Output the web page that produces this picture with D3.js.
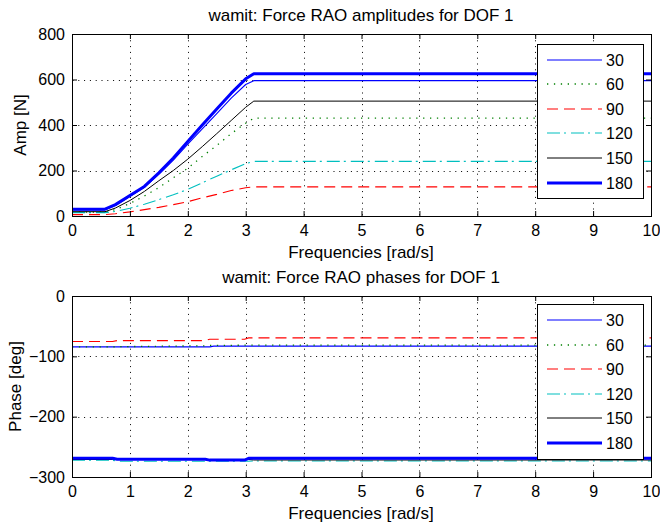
<!DOCTYPE html>
<html><head><meta charset="utf-8">
<script src="https://cdn.jsdelivr.net/npm/d3@7"></script>
<style>
body{margin:0;background:#fff;}
text{font-family:"Liberation Sans",Arial,Helvetica,sans-serif;fill:#000;}
</style></head><body>
<svg id="fig" width="660" height="531"></svg>
<script>
// Wave headings (deg) shown in the legends
const headings = ["30", "60", "90", "120", "150", "180"];

// Frequency grid of the amplitude curves [rad/s]
const ampFreqs = [0, 0.57, 0.75, 1.0, 1.25, 1.5, 1.75, 2.0, 2.25, 2.5, 2.75, 3.0, 3.14, 10];
// Force RAO amplitudes [N], one array per heading
const amp30  = [27, 27, 46, 86, 126, 183, 246, 316, 383, 450, 518, 578, 595, 595];
const amp60  = [17, 17, 28, 55, 88, 125, 168, 210, 262, 310, 362, 408, 430, 430];
const amp90  = [6, 6, 10, 18, 28, 38, 50, 63, 80, 95, 112, 124, 128, 128];
const amp120 = [15, 15, 20, 34, 52, 72, 93, 117, 146, 175, 203, 230, 240, 240];
const amp150 = [19, 19, 35, 68, 108, 155, 200, 250, 305, 362, 420, 478, 505, 505];
const amp180 = [30, 30, 50, 90, 130, 190, 255, 328, 400, 470, 540, 603, 625, 625];

// Frequency grid of the phase curves [rad/s]
const phaseFreqs = [0, 0.7, 0.78, 2.3, 2.38, 2.45, 2.98, 3.05, 3.14, 10];
// Force RAO phases [deg], one array per heading
const ph30  = [-84.3, -84.3, -84.3, -84.3, -84.3, -83.1, -83.1, -83.1, -83.1, -83.1];
const ph60  = [-84.3, -84.3, -84.0, -82.5, -82.0, -82.0, -81.5, -81.5, -81.5, -81.5];
const ph90  = [-75.5, -75.5, -73.9, -73.9, -71.6, -71.6, -71.6, -69.4, -69.4, -69.4];
const ph120 = [-272.3, -272.3, -274, -274, -274, -274, -274, -274, -273.5, -273.5];
const ph150 = [-271, -271, -271, -271, -271, -271, -271, -271, -271.8, -271.8];
const ph180 = [-268.8, -268.8, -270.5, -270.5, -272, -272, -272, -269, -269, -269];

// Axis tick values
const freqTicks = [0, 1, 2, 3, 4, 5, 6, 7, 8, 9, 10];
const ampTicks = [0, 200, 400, 600, 800];
const phaseTicks = [-300, -200, -100, 0];

// Line styles per heading
const styles = [
  {color: "#0000ff", width: 1.1, dash: null},
  {color: "#008000", width: 1.3, dash: "1.3,5.6"},
  {color: "#ff0000", width: 1.1, dash: "11,6"},
  {color: "#00bfbf", width: 1.1, dash: "13,4,2,5"},
  {color: "#000000", width: 1,   dash: null},
  {color: "#0000ff", width: 3,   dash: null}
];

const svg = d3.select("#fig");
svg.append("rect").attr("width", 660).attr("height", 531).attr("fill", "#fff");

const x = d3.scaleLinear().domain([0, 10]).range([72, 651]);

function panel(cfg, idx) {
  const y = d3.scaleLinear().domain(cfg.yDomain).range([cfg.bottom, cfg.top]);
  const g = svg.append("g");
  const x0 = x(0) + 0.5, x1 = x(10) + 0.5;
  const yT = cfg.top + 0.5, yB = cfg.bottom + 0.5;

  const clipId = "clip" + idx;
  svg.append("clipPath").attr("id", clipId)
    .append("rect").attr("x", x0).attr("y", yT).attr("width", x1 - x0).attr("height", yB - yT);

  // dotted grid
  const grid = g.append("g").attr("stroke", "#000").attr("stroke-width", 1)
    .attr("stroke-dasharray", "1,4.8").attr("fill", "none");
  freqTicks.slice(1, -1).forEach(v => {
    const px = Math.round(x(v)) + 0.5;
    grid.append("line").attr("x1", px).attr("x2", px).attr("y1", yT).attr("y2", yB);
  });
  cfg.ticks.forEach(v => {
    const py = Math.round(y(v)) + 0.5;
    if (Math.abs(py - yT) < 1 || Math.abs(py - yB) < 1) return;
    grid.append("line").attr("x1", x0).attr("x2", x1).attr("y1", py).attr("y2", py);
  });

  // data lines
  const line = d3.line().x(d => x(d[0])).y(d => y(d[1]));
  const lines = g.append("g").attr("clip-path", `url(#${clipId})`);
  cfg.series.forEach((vals, i) => {
    const s = styles[i];
    lines.append("path")
      .datum(cfg.freqs.map((f, k) => [f, vals[k]]))
      .attr("d", line)
      .attr("fill", "none")
      .attr("stroke", s.color)
      .attr("stroke-width", s.width)
      .attr("stroke-dasharray", s.dash)
      .attr("stroke-linejoin", "round");
  });

  // axes with inward ticks on all sides
  const fmtNone = () => "";
  g.append("g").attr("transform", `translate(0,${cfg.bottom})`)
    .call(d3.axisBottom(x).tickValues(freqTicks).tickSizeInner(-5).tickSizeOuter(0).tickPadding(9))
    .call(a => a.select(".domain").remove());
  g.append("g").attr("transform", `translate(0,${cfg.top})`)
    .call(d3.axisTop(x).tickValues(freqTicks).tickSizeInner(-5).tickSizeOuter(0).tickFormat(fmtNone))
    .call(a => a.select(".domain").remove());
  g.append("g").attr("transform", `translate(${x(0)},0)`)
    .call(d3.axisLeft(y).tickValues(cfg.ticks).tickSizeInner(-5).tickSizeOuter(0).tickPadding(7))
    .call(a => a.select(".domain").remove());
  g.append("g").attr("transform", `translate(${x(10)},0)`)
    .call(d3.axisRight(y).tickValues(cfg.ticks).tickSizeInner(-5).tickSizeOuter(0).tickFormat(fmtNone))
    .call(a => a.select(".domain").remove());
  g.selectAll(".tick line").attr("stroke", "#000");
  g.selectAll(".tick text").attr("font-size", 16).attr("font-family", null);

  // axes box
  g.append("rect").attr("x", x0).attr("y", yT).attr("width", x1 - x0).attr("height", yB - yT)
    .attr("fill", "none").attr("stroke", "#000").attr("stroke-width", 1);

  // titles and labels
  const cx = 361;
  g.append("text").attr("x", cx).attr("y", cfg.top - 13.5).attr("text-anchor", "middle")
    .attr("font-size", 17).text(cfg.title);
  g.append("text").attr("x", cx).attr("y", cfg.bottom + 42).attr("text-anchor", "middle")
    .attr("font-size", 17).text("Frequencies [rad/s]");
  g.append("text").attr("transform", `translate(${cfg.ylabelX},${(cfg.top + cfg.bottom) / 2}) rotate(-90)`)
    .attr("text-anchor", "middle").attr("font-size", 17).text(cfg.ylabel);

  // legend
  const L = cfg.legend;
  const lg = g.append("g");
  lg.append("rect").attr("x", 537.5).attr("y", L.top + 0.5).attr("width", 106).attr("height", L.height)
    .attr("fill", "#fff").attr("stroke", "#000").attr("stroke-width", 1);
  headings.forEach((h, i) => {
    const s = styles[i];
    const ry = Math.round(L.first + i * L.step);
    lg.append("line").attr("x1", 547).attr("x2", 602).attr("y1", ry).attr("y2", ry)
      .attr("stroke", s.color).attr("stroke-width", s.width).attr("stroke-dasharray", s.dash);
    lg.append("text").attr("x", 606).attr("y", ry).attr("dy", "0.36em")
      .attr("font-size", 16).text(h);
  });
}

panel({
  yDomain: [0, 800], top: 34, bottom: 216, ticks: ampTicks,
  freqs: ampFreqs, series: [amp30, amp60, amp90, amp120, amp150, amp180],
  title: "wamit: Force RAO amplitudes for DOF 1", ylabel: "Amp [N]", ylabelX: 26,
  legend: {top: 44, height: 154, first: 59.5, step: 24.6}
}, 0);

panel({
  yDomain: [-300, 0], top: 296, bottom: 477, ticks: phaseTicks,
  freqs: phaseFreqs, series: [ph30, ph60, ph90, ph120, ph150, ph180],
  title: "wamit: Force RAO phases for DOF 1", ylabel: "Phase [deg]", ylabelX: 21,
  legend: {top: 304, height: 155, first: 320, step: 24.5}
}, 1);
</script>
</body></html>
